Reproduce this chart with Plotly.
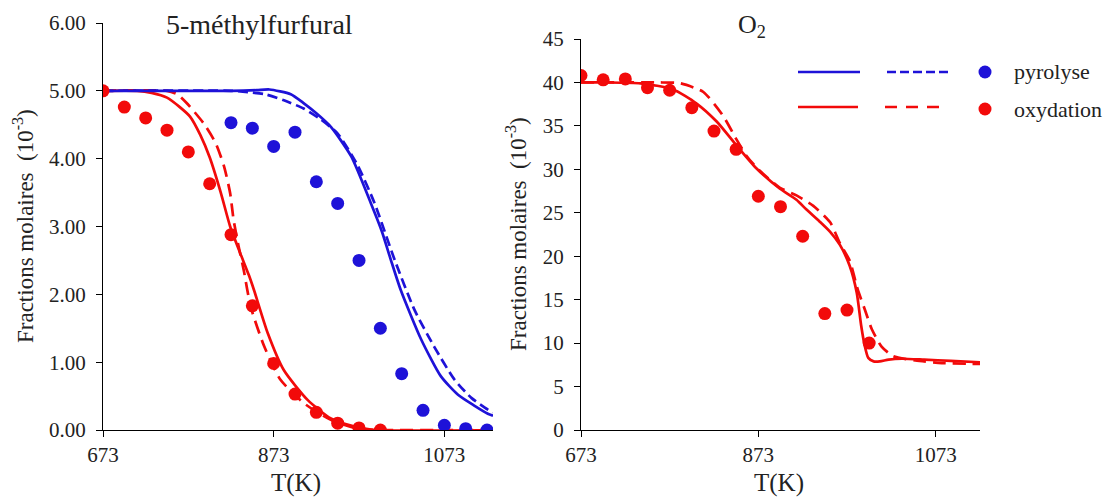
import plotly.graph_objects as go

# ---------------- data ----------------
# 5-methylfurfural panel (mole fraction, 10^-3)
T_exp_pyro = [823, 848, 873, 898, 923, 948, 973, 998, 1023, 1048, 1073, 1098, 1123]
mf_exp_pyro = [4.53, 4.45, 4.18, 4.39, 3.66, 3.34, 2.50, 1.50, 0.83, 0.29, 0.07, 0.02, 0.0]
T_exp_oxy = [673, 698, 723, 748, 773, 798, 823, 848, 873, 898, 923, 948, 973, 998]
mf_exp_oxy = [5.0, 4.76, 4.60, 4.42, 4.10, 3.63, 2.88, 1.83, 0.98, 0.53, 0.26, 0.10, 0.03, 0.0]

T_mod_pyro_a = [673, 773, 823, 853, 868, 893, 908, 923, 940, 964, 987, 1000, 1010, 1022, 1046, 1069, 1089, 1108, 1124, 1130]
mf_mod_pyro_a = [5.0, 5.0, 5.0, 5.01, 5.02, 4.95, 4.82, 4.67, 4.47, 4.03, 3.34, 2.92, 2.52, 2.06, 1.33, 0.79, 0.52, 0.36, 0.24, 0.21]
T_mod_pyro_b = [673, 823, 843, 863, 885, 908, 928, 948, 971, 991, 1015, 1038, 1061, 1085, 1105, 1124, 1130]
mf_mod_pyro_b = [5.0, 5.0, 4.98, 4.95, 4.86, 4.74, 4.58, 4.37, 3.91, 3.35, 2.50, 1.77, 1.23, 0.74, 0.47, 0.30, 0.26]

T_mod_oxy_a = [673, 713, 730, 748, 763, 775, 787, 798, 811, 822, 834, 844, 850, 866, 885, 913, 940, 968, 991, 1130]
mf_mod_oxy_a = [5.0, 5.0, 4.97, 4.90, 4.76, 4.62, 4.35, 4.02, 3.50, 3.0, 2.60, 2.28, 2.06, 1.43, 0.88, 0.44, 0.17, 0.05, 0.0, 0.0]
T_mod_oxy_b = [673, 748, 760, 771, 791, 805, 815, 822, 826, 832, 838, 846, 862, 881, 909, 940, 971, 1000, 1130]
mf_mod_oxy_b = [5.0, 5.0, 4.95, 4.82, 4.52, 4.23, 3.88, 3.49, 3.10, 2.70, 2.35, 1.82, 1.23, 0.74, 0.39, 0.15, 0.02, 0.0, 0.0]

# O2 panel (mole fraction, 10^-3)
T_o2_exp = [673, 698, 723, 748, 773, 798, 823, 848, 873, 898, 923, 948, 973, 998]
o2_exp = [40.8, 40.3, 40.4, 39.4, 39.1, 37.1, 34.4, 32.3, 26.9, 25.7, 22.3, 13.4, 13.8, 10.0]
T_o2_mod_a = [673, 700, 740, 777, 803, 826, 848, 871, 897, 916, 927, 942, 954, 965, 976, 984, 989, 993, 997, 1003, 1010, 1020, 1035, 1060, 1090, 1123]
o2_mod_a = [40.0, 40.0, 39.9, 39.2, 37.6, 35.5, 32.8, 30.1, 27.8, 26.5, 25.4, 24.0, 22.8, 21.3, 18.9, 15.8, 12.0, 9.7, 8.3, 7.9, 7.9, 8.1, 8.2, 8.1, 7.95, 7.8]
T_o2_mod_b = [673, 760, 785, 811, 833, 848, 860, 873, 897, 916, 935, 954, 965, 976, 985, 993, 1001, 1012, 1025, 1050, 1080, 1123]
o2_mod_b = [40.0, 40.0, 39.9, 38.9, 36.2, 33.5, 31.5, 30.0, 27.9, 27.0, 25.8, 23.9, 21.5, 19.5, 16.2, 13.9, 11.6, 9.6, 8.5, 8.0, 7.7, 7.6]

x_ticks = [673, 873, 1073]
y1_ticks = [0, 1, 2, 3, 4, 5, 6]
y2_ticks = [0, 5, 10, 15, 20, 25, 30, 35, 40, 45]

# ---------------- style ----------------
BLUE = "#1E12D8"
RED = "#F20A0A"
FONT = "Liberation Serif"
OFF = 8              # page body offset of the plot div
W, H = 1113 - OFF, 497 - OFF
LW = 2.7
MS = 13

fig = go.Figure()

def line(x, y, color, dash, xa, ya):
    fig.add_trace(go.Scatter(x=x, y=y, mode="lines", line=dict(color=color, width=LW, dash=dash, shape="spline", smoothing=0.6),
                             xaxis=xa, yaxis=ya, showlegend=False, hoverinfo="skip"))

def dots(x, y, color, xa, ya):
    fig.add_trace(go.Scatter(x=x, y=y, mode="markers", marker=dict(color=color, size=MS, line=dict(width=0)),
                             xaxis=xa, yaxis=ya, showlegend=False, hoverinfo="skip"))

# left panel
line(T_mod_oxy_a, mf_mod_oxy_a, RED, "solid", "x", "y")
line(T_mod_oxy_b, mf_mod_oxy_b, RED, "13px,7px", "x", "y")
line(T_mod_pyro_a, mf_mod_pyro_a, BLUE, "solid", "x", "y")
line(T_mod_pyro_b, mf_mod_pyro_b, BLUE, "10px,5px", "x", "y")
dots(T_exp_oxy, mf_exp_oxy, RED, "x", "y")
dots(T_exp_pyro, mf_exp_pyro, BLUE, "x", "y")

# right panel
line(T_o2_mod_a, o2_mod_a, RED, "solid", "x2", "y2")
line(T_o2_mod_b, o2_mod_b, RED, "13px,7px", "x2", "y2")
dots(T_o2_exp, o2_exp, RED, "x2", "y2")

def px_x(p):
    return (p - OFF) / W

def px_y(p):
    return 1 - (p - OFF) / H

axis_common = dict(showgrid=False, zeroline=False, showline=True, linecolor="black", linewidth=1.2,
                   ticks="outside", ticklen=6, tickcolor="black", tickwidth=1.2, automargin=False,
                   tickfont=dict(family=FONT, size=21, color="#222"))

fig.update_layout(
    width=W, height=H,
    margin=dict(l=0, r=0, t=0, b=0, pad=0, autoexpand=False),
    paper_bgcolor="white", plot_bgcolor="white",
    font=dict(family=FONT, color="#222"),
    xaxis=dict(domain=[px_x(103), px_x(493)], range=[673, 1130], tickvals=x_ticks, anchor="y", **axis_common),
    yaxis=dict(domain=[px_y(430), px_y(23)], range=[0, 6], tickvals=y1_ticks, tickformat=".2f", anchor="x",
               ticklabelstandoff=6, **axis_common),
    xaxis2=dict(domain=[px_x(581), px_x(980)], range=[673, 1123], tickvals=x_ticks, anchor="y2", **axis_common),
    yaxis2=dict(domain=[px_y(430), px_y(39)], range=[0, 45], tickvals=y2_ticks, anchor="x2",
                ticklabelstandoff=6, **axis_common),
)

ann = []
def text(x, y, s, size, angle=0, xanchor="center"):
    ann.append(dict(x=px_x(x), y=px_y(y), xref="paper", yref="paper", text=s, showarrow=False,
                    font=dict(family=FONT, size=size, color="#222"), textangle=angle,
                    xanchor=xanchor, yanchor="middle"))

text(259, 25, "5-méthylfurfural", 28)
text(752, 26, "O<sub>2</sub>", 26)
text(296, 483, "T(K)", 25)
text(779, 483, "T(K)", 25)
text(23, 226, "Fractions molaires\u00a0 (10<sup>-3</sup>)", 23, angle=-90)
text(516, 234, "Fractions molaires\u00a0 (10<sup>-3</sup>)", 23, angle=-90)
# legend
text(1012, 72, "pyrolyse", 22, xanchor="left")
text(1012, 109, "oxydation", 22, xanchor="left")

shapes = []
def seg(x0, x1, y, color, dash):
    shapes.append(dict(type="line", xref="paper", yref="paper", x0=px_x(x0), x1=px_x(x1), y0=px_y(y), y1=px_y(y),
                       line=dict(color=color, width=LW, dash=dash)))

def circ(cx, cy, r, color):
    shapes.append(dict(type="circle", xref="paper", yref="paper", x0=px_x(cx - r), x1=px_x(cx + r),
                       y0=px_y(cy + r), y1=px_y(cy - r), fillcolor=color, line=dict(width=0)))

seg(798, 860, 72, BLUE, "solid")
seg(887, 950, 72, BLUE, "9px,4px")
circ(985, 72, 6.5, BLUE)
seg(798, 858, 107, RED, "solid")
seg(885, 947, 107, RED, "12px,9px")
circ(985, 109, 6.5, RED)

fig.update_layout(annotations=ann, shapes=shapes)

fig.write_html("out.html")
